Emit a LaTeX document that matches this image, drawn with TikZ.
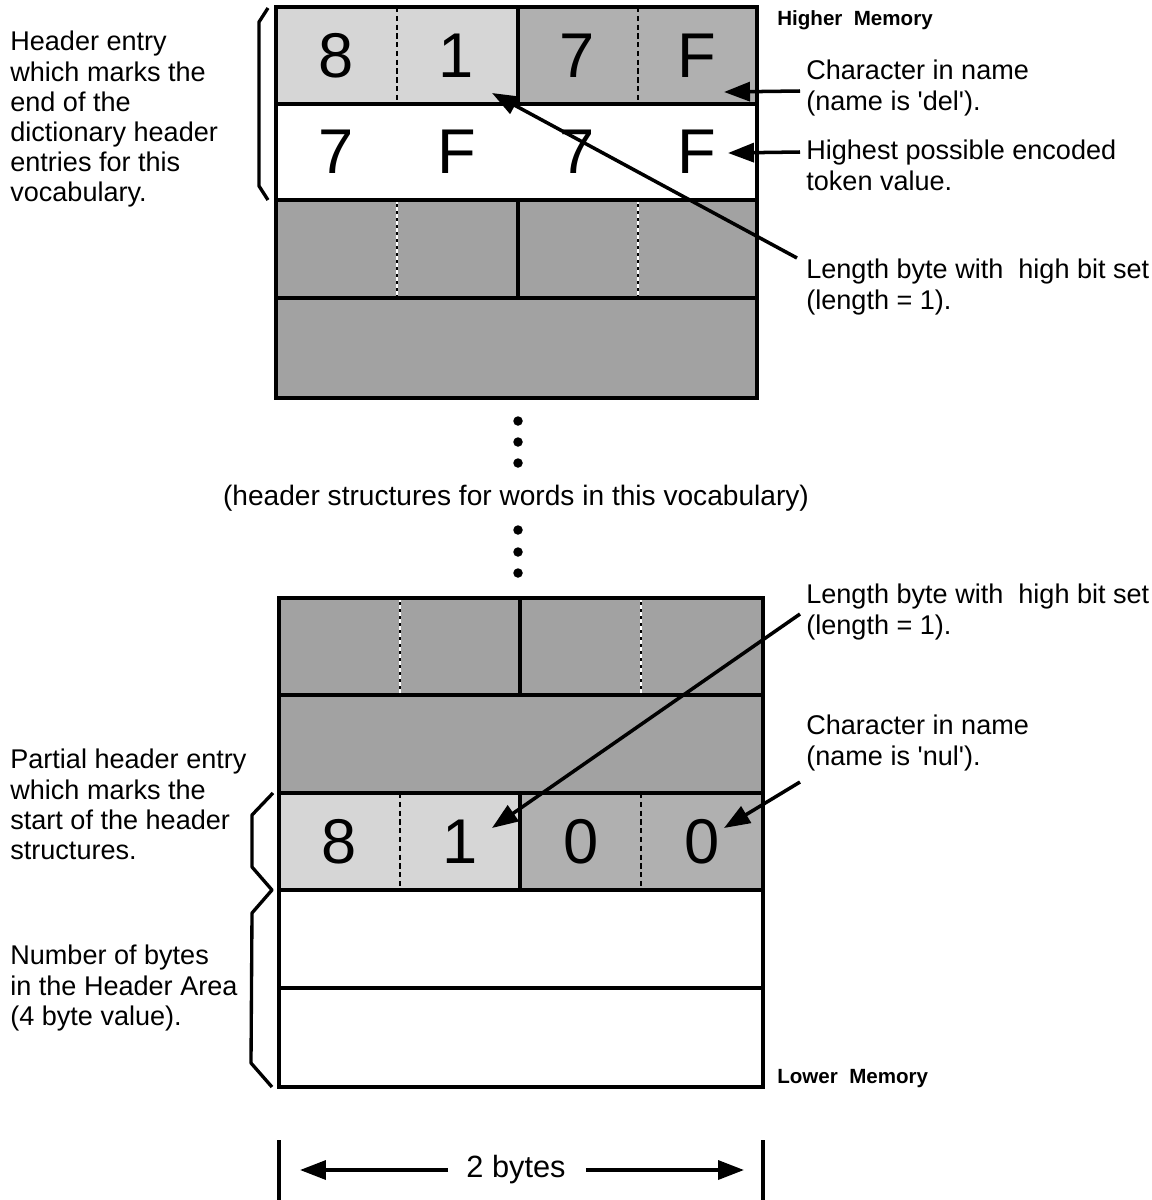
\documentclass[tikz,border=0pt]{standalone}
\usepackage{fontspec}
\setmainfont{Liberation Sans}
\usetikzlibrary{arrows.meta,positioning,calc}
\definecolor{celllight}{HTML}{D6D6D6}
\definecolor{cellmid}{HTML}{B0B0B0}
\definecolor{celldark}{HTML}{A2A2A2}
\tikzset{
  box/.style={draw=black, line width=1.8pt},
  sep/.style={draw=black, line width=1.1pt, dash pattern=on 3pt off 2pt},
  sepdk/.style={draw=white, line width=1.1pt, dash pattern=on 2pt off 2pt,
    preaction={draw=black, line width=1.1pt, dash pattern=on 2pt off 2pt, dash phase=2pt}},
  digit/.style={font=\fontsize{36}{40}\selectfont, inner sep=0pt},
  note/.style={align=left, anchor=north west, inner sep=0pt,
    font=\fontsize{15.4}{17.1}\selectfont},
  memlab/.style={anchor=north west, inner sep=0pt,
    font=\fontsize{11.7}{14}\selectfont\bfseries},
  ptr/.style={line width=2pt, -{Triangle[length=0.52cm,width=0.38cm]}},
  brk/.style={line width=1.9pt, line join=round},
  vdot/.style={circle, fill=black, inner sep=0pt, minimum size=0.19cm}
}
\begin{document}
\begin{tikzpicture}[x=0.02cm,y=-0.02cm]
  \useasboundingbox (0,0) rectangle (1152,1200);

  % upper block (higher memory)
  \fill[celllight] (276,7) rectangle (518,104);
  \fill[cellmid] (518,7) rectangle (757,104);
  \fill[celldark] (276,200) rectangle (757,398);
  \foreach \x in {397,638} {
    \draw[sep] (\x,7) -- (\x,104);
    \draw[sepdk] (\x,200) -- (\x,298);
  }
  \draw[box] (276,7) rectangle (757,398);
  \foreach \y in {104,200,298} {\draw[box] (276,\y) -- (757,\y);}
  \draw[box] (518,7) -- (518,104) (518,200) -- (518,298);
  \foreach \d [count=\i] in {8,1,7,F} {\node[digit] (hi\i) at ({276+(\i-0.5)*120.25},55.5) {\d};}
  \foreach \d [count=\i] in {7,F,7,F} {\node[digit] (tok\i) at ({276+(\i-0.5)*120.25},152) {\d};}

  % lower block (lower memory)
  \fill[celldark] (279,598) rectangle (763,793);
  \fill[celllight] (279,793) rectangle (520,890);
  \fill[cellmid] (520,793) rectangle (763,890);
  \foreach \x in {400,641} {
    \draw[sepdk] (\x,598) -- (\x,695);
    \draw[sep] (\x,793) -- (\x,890);
  }
  \draw[box] (279,598) rectangle (763,1087);
  \foreach \y in {695,793,890,988} {\draw[box] (279,\y) -- (763,\y);}
  \draw[box] (520,598) -- (520,695) (520,793) -- (520,890);
  \foreach \d [count=\i] in {8,1,0,0} {\node[digit] (lo\i) at ({279+(\i-0.5)*121},841.5) {\d};}

  % gap between the blocks
  \foreach \y [count=\i] in {421,442,463} {\node[vdot] (dta\i) at (518,\y) {};}
  \foreach \y [count=\i] in {530,552,573} {\node[vdot] (dtb\i) at (518,\y) {};}
  \node[font=\fontsize{16}{18}\selectfont] (gap) at (516,498)
    {(header structures for words in this vocabulary)};

  % brackets
  \draw[brk] (268,8) -- (259,22) -- (259,186) -- (268,200);
  \draw[brk] (273,793) -- (252,815) -- (252,867) -- (272,890)
    -- (252,913) -- (251,1063) -- (272,1087);

  % left notes
  \node[note] (headtxt) at (10,31) {Header entry\\which marks the\\end of the\\dictionary header\\entries for this\\vocabulary.};
  \node[note] (parttxt) at (10,749) {Partial header entry\\which marks the\\start of the header\\structures.};
  \node[note] (numtxt) at (10,945) {Number of bytes\\in the Header Area\\(4 byte value).};

  % right notes
  \node[memlab] (himem) at (777,10) {Higher\ \ Memory};
  \node[memlab] (lomem) at (777,1069) {Lower\ \ Memory};
  \node[note] (deltxt) at (806,60) {Character in name\\(name is \textquotesingle del\textquotesingle).};
  \node[note] (hightxt) at (806,140) {Highest possible encoded\\token value.};
  \node[note] (lentop) at (806,259) {Length byte with\ \ high bit set\\(length = 1).};
  \node[note] (lenbot) at (806,584) {Length byte with\ \ high bit set\\(length = 1).};
  \node[note] (nultxt) at (806,715) {Character in name\\(name is \textquotesingle nul\textquotesingle).};

  % pointers
  \coordinate (deltip) at (724,92);
  \coordinate (hightip) at (728,153);
  \coordinate (lentip) at (492,93);
  \coordinate (lenlotip) at (492,828);
  \coordinate (nultip) at (724,828);
  \draw[ptr] ($(deltxt.north west)+(-6,31)$) -- (deltip);
  \draw[ptr] ($(hightxt.north west)+(-6,12)$) -- (hightip);
  \draw[ptr] ($(lentop.north west)+(-9,-1)$) -- (lentip);
  \draw[ptr] ($(lenbot.north west)+(-6,30)$) -- (lenlotip);
  \draw[ptr] ($(nultxt.north west)+(-6,67)$) -- (nultip);

  % width of a cell row
  \node[font=\fontsize{17.5}{20}\selectfont] (width) at (516,1170) {2 bytes};
  \coordinate (wl) at (300,1170);
  \coordinate (wr) at (744,1170);
  \draw[line width=1.9pt] (279,1140) -- (279,1200) (763,1140) -- (763,1200);
  \draw[ptr] (width.west) ++(-12,0) -- (wl);
  \draw[ptr] (width.east) ++(14,0) -- (wr);
\end{tikzpicture}
\end{document}
